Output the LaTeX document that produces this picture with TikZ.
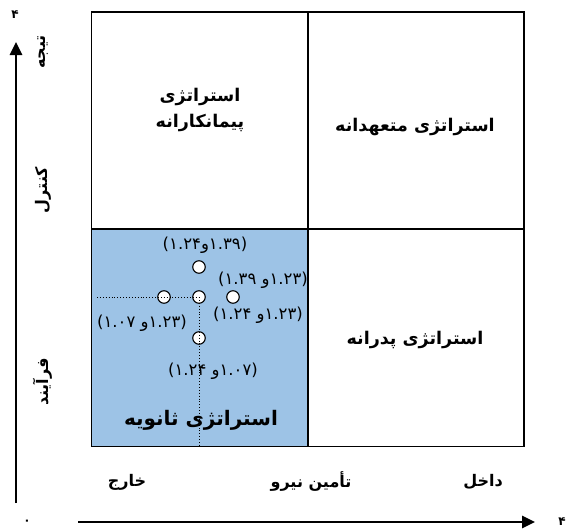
\documentclass[tikz,border=0pt]{standalone}
\usepackage{fontspec}
\usetikzlibrary{arrows.meta}
\newfontfamily\fa[Script=Arabic]{DejaVu Sans}
\newfontfamily\fd{DejaVu Sans}
\TeXXeTstate=1
\definecolor{qblue}{RGB}{157,195,230}
\newcommand\pr[3]{\hbox{(}\hbox{#1}#3\hbox{و}\hbox{#2}\hbox{)}}
\begin{document}
\begin{tikzpicture}[x=1pt,y=-1pt,
  quad/.style={draw,line width=1.6pt,minimum width=216pt,minimum height=217pt,inner sep=0pt,outer sep=0pt},
  qlabel/.style={font=\fa\bfseries\fontsize{17.5}{26}\selectfont,align=center,inner sep=1pt},
  axlabel/.style={font=\fa\bfseries\fontsize{16}{18}\selectfont,inner sep=1pt},
  numlabel/.style={font=\fd\fontsize{16.5}{18}\selectfont,inner sep=0pt},
  digit/.style={font=\fd\bfseries\fontsize{12}{13}\selectfont,inner sep=1pt},
  pt/.style={circle,draw,fill=white,line width=1.1pt,minimum size=12.5pt,inner sep=0pt},
  axis/.style={line width=2.6pt,-{Triangle[length=13pt,width=12pt]}},
  guide/.style={dotted,line width=0.9pt}]
\path[use as bounding box] (0,0) rectangle (568,528);
% quadrants
\node[quad,fill=qblue] (bl) at (199.5,338) {};
\node[quad] (tl) at (199.5,120.5) {};
\node[quad] (tr) at (416,120.5) {};
\node[quad] (br) at (416,338) {};
% quadrant labels
\node[qlabel] (tlt) at (200,110) {\beginR استراتژی\endR\\\beginR پیمانکارانه\endR};
\node[qlabel] (trt) at (415,127) {\beginR استراتژی متعهدانه\endR};
\node[qlabel] (brt) at (415,340) {\beginR استراتژی پدرانه\endR};
\node[qlabel,font=\fa\bfseries\fontsize{20}{24}\selectfont] (blt) at (201,420) {\beginR استراتژی ثانویه\endR};
% points
\node[pt] (pA) at (199,267) {};
\node[pt] (pB) at (199,297) {};
\node[pt] (pC) at (233,297) {};
\node[pt] (pD) at (164,297) {};
\node[pt] (pE) at (199,338) {};
\coordinate (gl) at (97,297);
\coordinate (gb) at (199,446);
\draw[guide] (gl) -- (pB.center);
\draw[guide] (pB.center) -- (gb);
% number labels
\node[numlabel] (nA) at (205,245) {\pr{۱.۲۴}{۱.۳۹}{}};
\node[numlabel] (nC) at (263,280) {\pr{۱.۳۹}{۱.۲۳}{\ }};
\node[numlabel] (nB) at (258,315) {\pr{۱.۲۴}{۱.۲۳}{\ }};
\node[numlabel] (nD) at (142,323) {\pr{۱.۰۷}{۱.۲۳}{\ }};
\node[numlabel] (nE) at (213,371) {\pr{۱.۲۴}{۱.۰۷}{\ }};
% axes
\coordinate (v0) at (16,503);
\coordinate (v1) at (16,42);
\draw[axis] (v0) -- (v1);
\coordinate (h0) at (78,522);
\coordinate (h1) at (535,522);
\draw[axis] (h0) -- (h1);
\node[digit] (y4) at (15,15) {۴};
\node[digit] (x4) at (562,522) {۴};
\node[digit] (o0) at (27,522) {۰};
% axis labels
\node[axlabel,rotate=90] (yt) at (43,52) {\beginR تیجه\endR};
\node[axlabel,rotate=90] (yc) at (43,190) {\beginR کنترل\endR};
\node[axlabel,rotate=90] (yf) at (43,382) {\beginR فرآیند\endR};
\node[axlabel] (xk) at (127,482) {\beginR خارج\endR};
\node[axlabel] (xt) at (311,482) {\beginR تأمین نیرو\endR};
\node[axlabel] (xd) at (483,482) {\beginR داخل\endR};
\end{tikzpicture}
\end{document}
